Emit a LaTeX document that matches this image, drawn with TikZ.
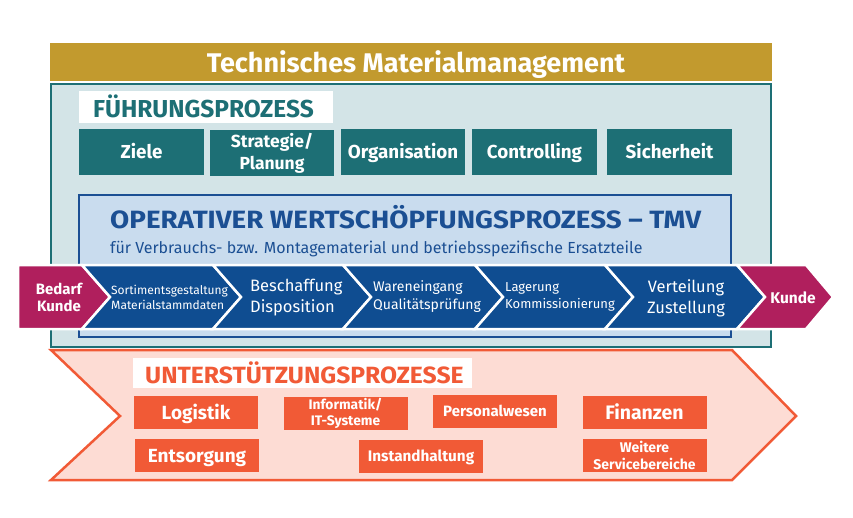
\documentclass[tikz,border=0pt]{standalone}
\usepackage{fontspec}
\setmainfont{Fira Sans}
\definecolor{gold}{HTML}{C29A2E}
\definecolor{tealc}{HTML}{1D6F75}
\definecolor{outerfill}{HTML}{D3E4E7}
\definecolor{opfill}{HTML}{C9DCEE}
\definecolor{opborder}{HTML}{1B4F93}
\definecolor{bluec}{HTML}{0F4D91}
\definecolor{magc}{HTML}{B01F5D}
\definecolor{salmon}{HTML}{FDDCD4}
\definecolor{orangec}{HTML}{F15A36}
\newcommand\fs[2]{\fontsize{#1}{#2}\selectfont}
\begin{document}
\begin{tikzpicture}[x=1pt,y=-1pt,
  tealbox/.style={fill=tealc,text=white,font=\bfseries\fs{18.8}{22},align=center,inner sep=0pt,minimum width=125pt,minimum height=46pt},
  orbox/.style={fill=orangec,text=white,font=\bfseries\fs{19}{22},align=center,inner sep=0pt,minimum width=124pt,minimum height=33pt},
  oneline/.style={text height=#1,text depth=0pt},
  chev/.style={draw=white,line width=2.5pt,line join=miter},
  chevtext/.style={text=white,align=left,inner sep=0pt},
  heading/.style={font=\bfseries\fs{24.5}{28},inner sep=0pt,anchor=base west}]
\useasboundingbox (0,0) rectangle (853,517);
% title bar
\fill[gold] (50,43) rectangle (772,81);
\node[text=white,font=\bfseries\fs{27}{30},anchor=base,inner sep=0pt] (title) at (416,72) {Technisches Materialmanagement};
% outer box
\draw[tealc,line width=2pt,fill=outerfill] (51,84) rectangle (771,347);
\fill[white] (79,91) rectangle (333,123);
\node[heading,text=tealc] (fp) at (93,117) {FÜHRUNGSPROZESS};
\node[tealbox,oneline=13pt] (ziele) at (141.5,152) {Ziele};
\node[tealbox,minimum width=124pt,font=\bfseries\fs{17.5}{22}] (strat) at (272,153) {Strategie/\\Planung};
\node[tealbox,oneline=13pt,minimum width=124pt] (org) at (403,152) {Organisation};
\node[tealbox,oneline=13pt] (contr) at (534.5,152) {Controlling};
\node[tealbox,oneline=13pt] (sich) at (669.5,152) {Sicherheit};
% operative box
\draw[opborder,line width=2.5pt,fill=opfill] (79,195) rectangle (731,337);
\node[heading,text=opborder,font=\bfseries\fs{25}{28}] (op) at (110,228) {\scalebox{1.11}[1]{OPERATIVER WERTSCHÖPFUNGSPROZESS – TMV}};
\node[anchor=base west,inner sep=0pt,text=opborder,font=\fs{16}{19}] (sub) at (110,253) {für Verbrauchs- bzw. Montagematerial und betriebsspezifische Ersatzteile};
% chevrons
\def\T{265}\def\B{329}\def\M{297}
\draw[chev,fill=magc] (18,\T) -- (82,\T) -- (110,\M) -- (82,\B) -- (18,\B) -- cycle;
\foreach \a/\b in {82/213,213/343,343/475,475/605,605/737}{
  \draw[chev,fill=bluec] (\a,\T) -- (\b,\T) -- (\b+28,\M) -- (\b,\B) -- (\a,\B) -- (\a+28,\M) -- cycle;
}
\draw[chev,fill=magc] (737,\T) -- (806,\T) -- (833,\M) -- (806,\B) -- (737,\B) -- (765,\M) -- cycle;
\node[chevtext,align=center,font=\bfseries\fs{15}{17}] (bedarf) at (59,297) {Bedarf\\Kunde};
\node[chevtext,anchor=west,font=\fs{12}{15}] (sort) at (111,297) {Sortimentsgestaltung\\Materialstammdaten};
\node[chevtext,anchor=west,font=\fs{16.5}{21}] (besch) at (250,298) {Beschaffung\\Disposition};
\node[chevtext,anchor=west,font=\fs{14}{18}] (waren) at (373,297) {Wareneingang\\Qualitätsprüfung};
\node[chevtext,anchor=west,font=\fs{13}{17}] (lager) at (505,297) {Lagerung\\Kommissionierung};
\node[chevtext,align=center,font=\fs{16.5}{21}] (vert) at (686,298) {Verteilung\\Zustellung};
\node[chevtext,oneline=10.7pt,font=\bfseries\fs{15.5}{18}] (kunde) at (793,298) {Kunde};
% support
\draw[orangec,line width=2.5pt,fill=salmon,line join=miter] (51,350) -- (732,350) -- (796,416) -- (732,480) -- (51,480) -- (120,416) -- cycle;
\fill[white] (133,358) rectangle (472,388);
\node[heading,text=orangec,font=\bfseries\fs{23.5}{28}] (up) at (145,383) {\scalebox{1.05}[1]{UNTERSTÜTZUNGSPROZESSE}};
\node[orbox,oneline=13.1pt] (log) at (196,412.5) {Logistik};
\node[orbox,font=\bfseries\fs{13.8}{16}] (inf) at (345.5,413) {Informatik/\\IT-Systeme};
\node[orbox,oneline=10.3pt,font=\bfseries\fs{15}{18}] (pers) at (495,411) {Personalwesen};
\node[orbox,oneline=13.4pt,font=\bfseries\fs{19.5}{22}] (fin) at (644.5,412.5) {Finanzen};
\node[orbox,oneline=13.1pt] (ents) at (197,455.5) {Entsorgung};
\node[orbox,oneline=10.5pt,font=\bfseries\fs{15.3}{18}] (inst) at (421,456) {Instandhaltung};
\node[orbox,font=\bfseries\fs{14}{17}] (weit) at (644.5,455.5) {Weitere\\Servicebereiche};
\end{tikzpicture}
\end{document}
